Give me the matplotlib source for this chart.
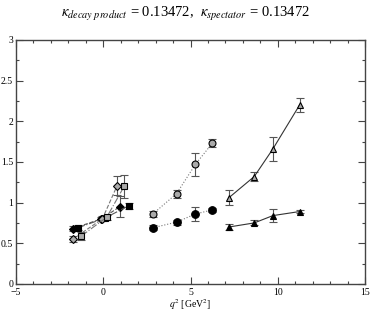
import matplotlib
matplotlib.use('Agg')
import matplotlib.pyplot as plt
from matplotlib.ticker import MultipleLocator

plt.rcParams['font.family'] = ['Liberation Serif', 'DejaVu Serif']
plt.rcParams['mathtext.fontset'] = 'stix'

# low q^2 group (dashed lines)
a_x = [-1.75, -0.1, 0.95]
a_y = [0.68, 0.80, 0.95]
a_e = [0.03, 0.02, 0.13]
b_x = [-1.45, 0.1, 1.45]
b_y = [0.69, 0.81, 0.96]
b_e = [0.03, 0.03, 0.04]
c_x = [-1.75, -0.05, 0.8]
c_y = [0.55, 0.80, 1.21]
c_e = [0.04, 0.03, 0.12]
d_x = [-1.25, 0.2, 1.2]
d_y = [0.59, 0.82, 1.20]
d_e = [0.05, 0.03, 0.14]

# middle group (dotted)
circ_x = [2.84, 4.2, 5.28, 6.25]
circ_open_y = [0.86, 1.11, 1.47, 1.73]
circ_open_e = [0.04, 0.05, 0.14, 0.05]
circ_fill_y = [0.69, 0.76, 0.86, 0.91]
circ_fill_e = [0.03, 0.03, 0.09, 0.02]

# high q^2 group (solid)
tri_x = [7.2, 8.65, 9.72, 11.25]
tri_open_y = [1.06, 1.32, 1.66, 2.20]
tri_open_e = [0.09, 0.06, 0.15, 0.08]
tri_fill_y = [0.70, 0.75, 0.84, 0.89]
tri_fill_e = [0.04, 0.03, 0.08, 0.02]

fig = plt.figure(figsize=(3.71, 3.12), dpi=100)
ax = fig.add_axes([0.043, 0.09, 0.941, 0.782])

def series(x, y, e, marker, fc, ls, lc, ms=5):
    ax.errorbar(x, y, yerr=e, fmt=marker, ms=ms, mfc=fc, mec='black', mew=0.8,
                ecolor='#555555', elinewidth=0.8, capsize=3, capthick=0.8,
                ls=ls, color=lc, lw=0.8)

series(a_x, a_y, a_e, 'D', 'black', '--', '#555555', 4)
series(b_x, b_y, b_e, 's', 'black', '-.', '#555555', 4)
series(c_x, c_y, c_e, 'D', '#aaaaaa', '--', '#777777', 4)
series(d_x, d_y, d_e, 's', '#aaaaaa', '-.', '#777777', 4)
series(circ_x, circ_open_y, circ_open_e, 'o', '#aaaaaa', ':', '#777777')
series(circ_x, circ_fill_y, circ_fill_e, 'o', 'black', ':', '#777777', 5.5)
series(tri_x, tri_open_y, tri_open_e, '^', '#aaaaaa', '-', '#333333')
series(tri_x, tri_fill_y, tri_fill_e, '^', 'black', '-', '#333333')

ax.set_xlim(-5, 15)
ax.set_ylim(0, 3)
ax.xaxis.set_major_locator(MultipleLocator(5))
ax.xaxis.set_minor_locator(MultipleLocator(1))
ax.yaxis.set_minor_locator(MultipleLocator(0.25))
ax.set_yticks([0, 0.5, 1, 1.5, 2, 2.5, 3])
ax.set_yticklabels(['0', '0.5', '1', '1.5', '2', '2.5', '3'])
ax.tick_params(which='both', direction='in', top=True, right=True,
               labelsize=7, color='#444444', width=0.8, pad=2)
ax.tick_params(axis='x', which='major', pad=3)
ax.tick_params(which='major', length=5)
ax.tick_params(which='minor', length=2.5)
for s in ax.spines.values():
    s.set_color('#444444')
    s.set_linewidth(1.0)

ax.set_xlabel(r'$q^2$ [GeV$^2$]', fontsize=7, labelpad=0)
fig.text(0.5, 0.955,
         r'$\kappa_{decay\ product}$ = 0.13472,  $\kappa_{spectator}$ = 0.13472',
         ha='center', va='center', fontsize=10.5)

fig.savefig('out.png', dpi=100)
